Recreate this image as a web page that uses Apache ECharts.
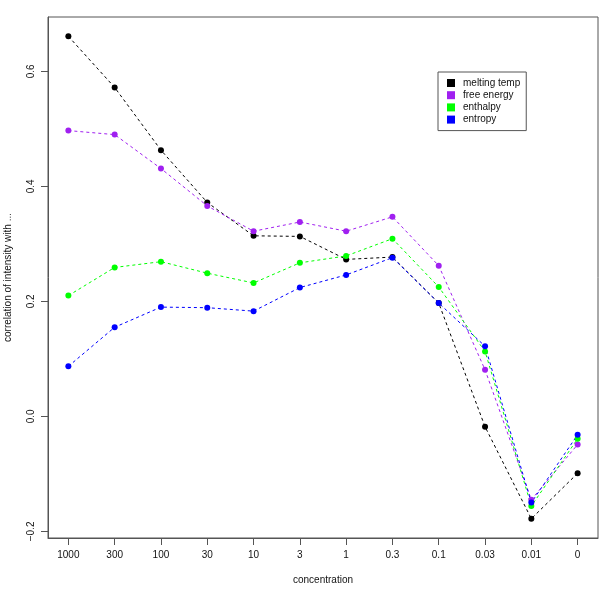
<!DOCTYPE html>
<html>
<head>
<meta charset="utf-8">
<script src="https://cdn.jsdelivr.net/npm/echarts@6/dist/echarts.min.js"></script>
<style>html,body{margin:0;padding:0;background:#fff}#c{width:600px;height:600px}</style>
</head>
<body>
<div id="c"></div>
<script>
var categories = ["1000","300","100","30","10","3","1","0.3","0.1","0.03","0.01","0"];
var meltingTemp = [0.661,0.572,0.463,0.372,0.314,0.313,0.273,0.277,0.197,-0.018,-0.178,-0.099];
var freeEnergy  = [0.497,0.490,0.431,0.366,0.322,0.338,0.322,0.347,0.262,0.081,-0.145,-0.049];
var enthalpy    = [0.210,0.259,0.269,0.249,0.232,0.267,0.279,0.309,0.225,0.113,-0.156,-0.039];
var entropy     = [0.087,0.155,0.190,0.189,0.183,0.224,0.246,0.276,0.197,0.122,-0.150,-0.032];
var yTicks = [-0.2,0.0,0.2,0.4,0.6];
var seriesNames = ["melting temp","free energy","enthalpy","entropy"];
var seriesColors = ["#000000","#A020F0","#00FF00","#0000FF"];
var seriesValues = [meltingTemp, freeEnergy, enthalpy, entropy];

var all = [].concat(meltingTemp, freeEnergy, enthalpy, entropy);
var dmin = Math.min.apply(null, all), dmax = Math.max.apply(null, all);
var ext = (dmax - dmin) * 0.04;
var xIdx = categories.map(function(_, i){ return i + 1; });
var xExt = (categories.length - 1) * 0.04;

var font = "'Liberation Sans', Arial, sans-serif";
var chart = echarts.init(document.getElementById('c'), null, {renderer: 'canvas'});
chart.setOption({
  animation: false,
  backgroundColor: '#fff',
  textStyle: {fontFamily: font},
  grid: {left: 48, right: 2, top: 17, bottom: 62, show: true, borderColor: '#555', borderWidth: 1,
    containLabel: false, outerBoundsMode: 'none'},
  legend: {
    orient: 'vertical', left: 438, top: 72,
    data: seriesNames,
    icon: 'rect', itemWidth: 8, itemHeight: 8, itemGap: 2.2,
    padding: [6, 6, 6, 9],
    borderColor: '#555', borderWidth: 1, backgroundColor: '#fff',
    textStyle: {fontFamily: font, fontSize: 10, color: '#111', padding: [0,0,0,3]}
  },
  xAxis: {
    type: 'value', min: 1 - xExt, max: categories.length + xExt,
    name: 'concentration', nameLocation: 'middle', nameGap: 37,
    nameTextStyle: {fontFamily: font, fontSize: 10, color: '#111'},
    splitLine: {show: false},
    axisLine: {show: true, onZero: false, lineStyle: {color: '#555'}},
    axisTick: {show: true, length: 7, lineStyle: {color: '#555'}, customValues: xIdx},
    axisLabel: {fontFamily: font, fontSize: 10, color: '#111', margin: 12, customValues: xIdx,
      formatter: function(v){ return categories[Math.round(v) - 1]; }}
  },
  yAxis: {
    type: 'value', min: dmin - ext, max: dmax + ext,
    name: 'correlation of intensity with ...', nameLocation: 'middle', nameGap: 35,
    nameTextStyle: {fontFamily: font, fontSize: 10, color: '#111'},
    splitLine: {show: false},
    axisLine: {show: true, lineStyle: {color: '#555'}},
    axisTick: {show: true, length: 7, lineStyle: {color: '#555'}, customValues: yTicks},
    axisLabel: {fontFamily: font, fontSize: 10, color: '#111', margin: 12, rotate: 90, customValues: yTicks,
      formatter: function(v){ var s = v.toFixed(1); return s.charAt(0) === '-' ? '\u2212' + s.slice(1) : s; }}
  },
  series: seriesNames.map(function(name, k){
    return {
      name: name, type: 'line',
      data: seriesValues[k].map(function(v, i){ return [xIdx[i], v]; }),
      symbol: 'circle', symbolSize: 6, showSymbol: true,
      itemStyle: {color: seriesColors[k]},
      lineStyle: {color: seriesColors[k], width: 1, type: [3, 3]},
      emphasis: {disabled: true}
    };
  })
});
</script>
</body>
</html>
